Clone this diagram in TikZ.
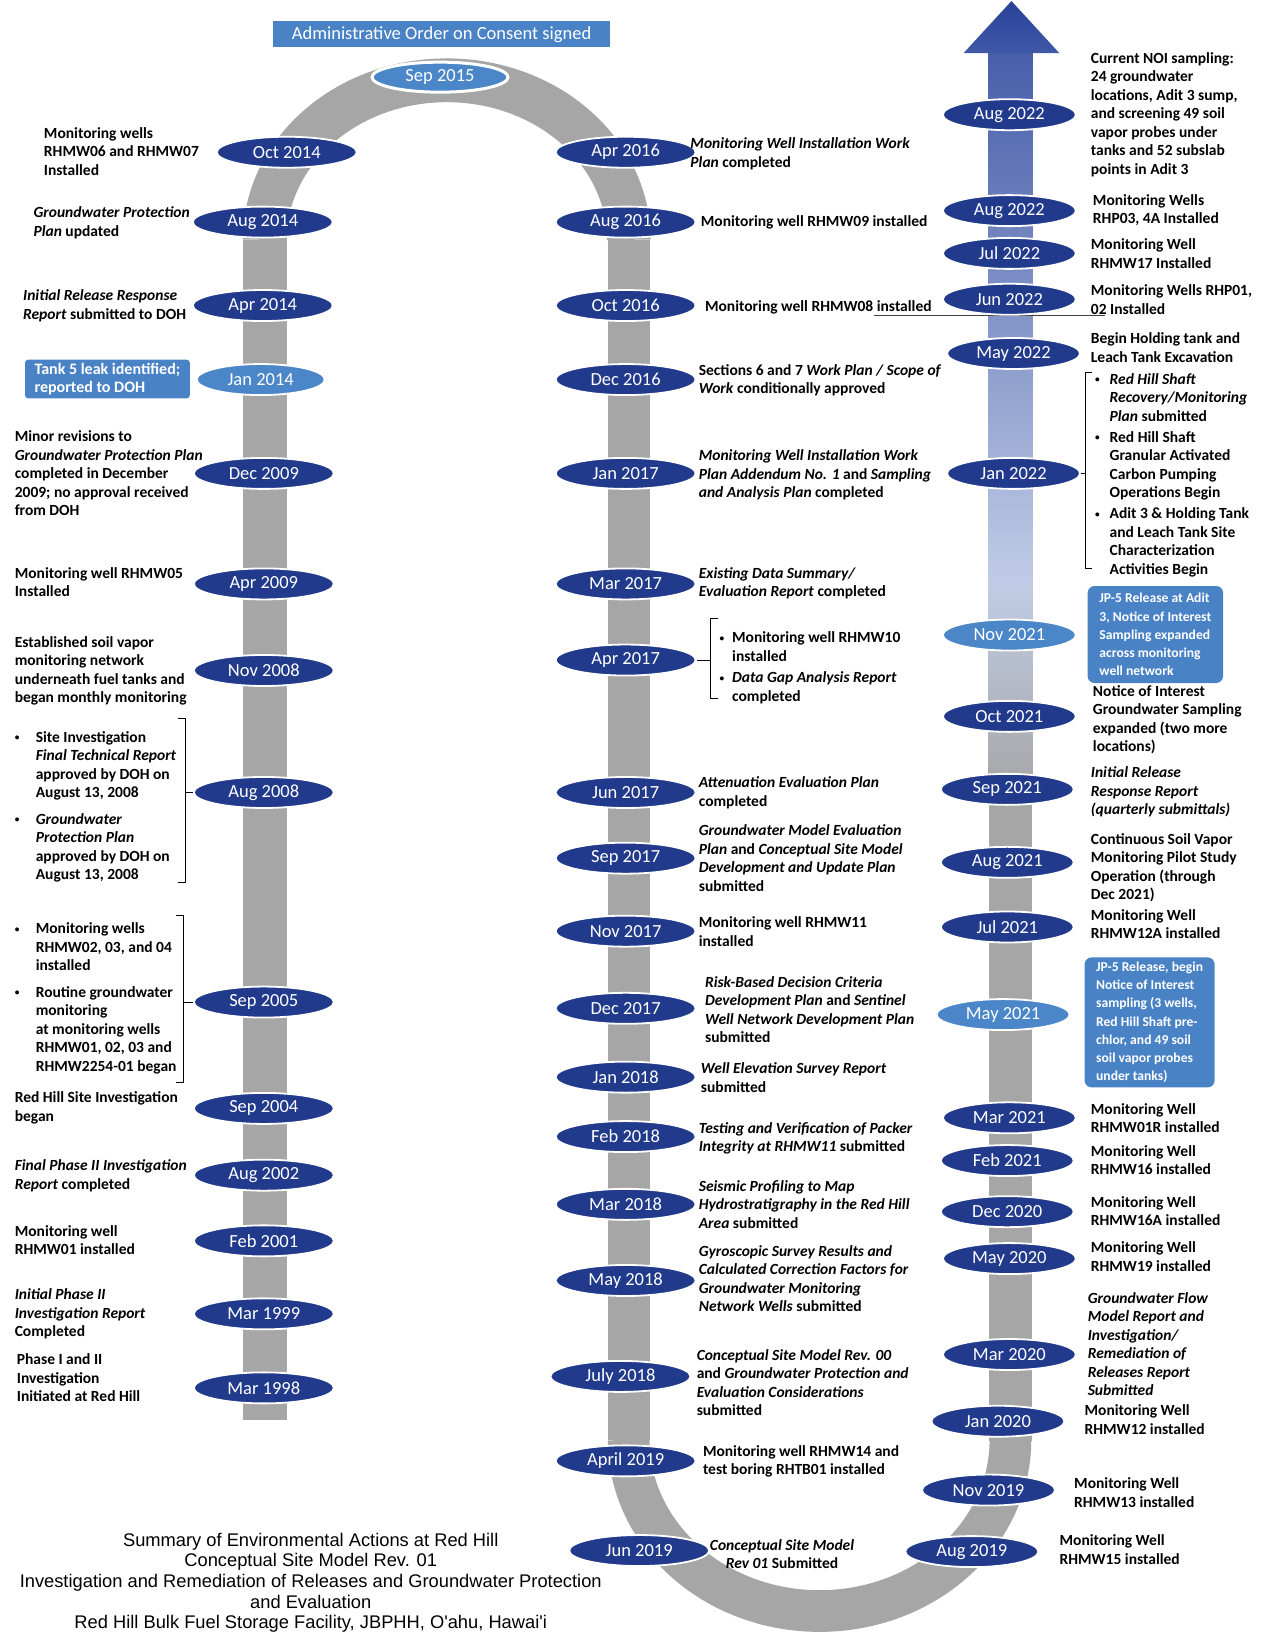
\documentclass[tikz,border=0pt]{standalone}
\usepackage{fontspec}
\setmainfont{Carlito}
\newfontfamily\titlefont{Liberation Sans}
\usetikzlibrary{shapes.geometric}
\definecolor{navy}{RGB}{33,58,140}
\definecolor{lblue}{RGB}{74,134,200}
\definecolor{boxblue}{RGB}{74,130,198}
\definecolor{band}{RGB}{166,166,166}
\definecolor{rbA}{RGB}{72,94,170}
\definecolor{rbB}{RGB}{192,204,230}
\definecolor{headA}{RGB}{40,66,152}
\definecolor{headB}{RGB}{64,88,168}
\newcommand\bulx[1]{\makebox[#1][l]{\raisebox{0.12em}{\scalebox{0.6}{•}}}}
\newcommand\indx[1]{\hspace*{#1}}
\begin{document}
\begin{tikzpicture}[x=1.0426pt,y=-1.0426pt,
 ev/.style={ellipse,fill=navy,draw=white,line width=1.8pt,minimum width=140pt,minimum height=31pt,inner sep=0pt,text=white,font=\fontsize{18.5}{20}\selectfont},
 evr/.style={ev,minimum width=133pt},
 lt/.style={fill=lblue},
 txt/.style={anchor=north west,inner sep=0pt,align=left,font=\fontsize{15.5}{18.5}\selectfont\bfseries},
 bxt/.style={rounded corners=7pt,fill=boxblue,text=white,align=left,inner sep=3pt,font=\fontsize{13.6}{18.2}\selectfont\bfseries},
 brk/.style={draw=black,line width=0.8pt}]

\useasboundingbox (0,0) rectangle (1220,1568);

% ---- bands
\fill[band] (233,230) rectangle (275,1362);
\fill[band] (583,230) rectangle (623,1381);
\draw[band,line width=43.8pt] (254,230) arc[start angle=180,end angle=360,x radius=174.5,y radius=153];
\draw[band,line width=41.7pt] (603,1381) arc[start angle=180,end angle=0,x radius=183,y radius=164];
\shade[top color=rbA,bottom color=rbB] (948,50) rectangle (990,560);
\shade[top color=rbB,bottom color=band] (948,559) rectangle (990,760);
\fill[band] (948,759) rectangle (990,1382);
\shade[top color=headA,bottom color=headB] (924,51) -- (1016,51) -- (970,1) -- cycle;

% ---- line under Oct 2016 text
\coordinate (ulA) at (838,302);
\coordinate (ulB) at (1060,302);
\draw[black!75,line width=0.8pt] (ulA) -- (ulB);

% ---- header box
\node[fill=boxblue,minimum width=337pt,minimum height=26pt,inner sep=0pt,text=white,font=\fontsize{18.5}{20}\selectfont] (aoc) at (423.5,33) {Administrative Order on Consent signed};
\node[ev,lt,line width=3pt,minimum width=136pt,minimum height=30pt] (tS) at (422,74) {Sep 2015};

% ---- left ellipses
\node[ev] (lA) at (275,146) {Oct 2014};
\node[ev] (lB) at (252,213) {Aug 2014};
\node[ev] (lC) at (252,293) {Apr 2014};
\node[ev,lt,minimum width=128pt] (lD) at (250,364) {Jan 2014};
\node[ev] (lE) at (253,454) {Dec 2009};
\node[ev] (lF) at (253,560) {Apr 2009};
\node[ev] (lG) at (253,643) {Nov 2008};
\node[ev] (lH) at (253,760) {Aug 2008};
\node[ev] (lI) at (253,961) {Sep 2005};
\node[ev] (lJ) at (253,1063) {Sep 2004};
\node[ev] (lK) at (253,1127) {Aug 2002};
\node[ev] (lL) at (253,1190) {Feb 2001};
\node[ev] (lM) at (253,1260) {Mar 1999};
\node[ev] (lN) at (253,1331) {Mar 1998};

% ---- middle ellipses
\node[ev] (mA) at (600,146) {Apr 2016};
\node[ev] (mB) at (600,213) {Aug 2016};
\node[ev] (mC) at (600,293) {Oct 2016};
\node[ev] (mD) at (600,364) {Dec 2016};
\node[ev] (mE) at (600,454) {Jan 2017};
\node[ev] (mF) at (600,560) {Mar 2017};
\node[ev] (mG) at (600,633) {Apr 2017};
\node[ev] (mH) at (600,760) {Jun 2017};
\node[ev] (mI) at (600,823) {Sep 2017};
\node[ev] (mJ) at (600,893) {Nov 2017};
\node[ev] (mK) at (600,967) {Dec 2017};
\node[ev] (mL) at (600,1033) {Jan 2018};
\node[ev] (mM) at (600,1090) {Feb 2018};
\node[ev] (mN) at (600,1155) {Mar 2018};
\node[ev] (mO) at (600,1228) {May 2018};
\node[ev] (mP) at (595,1320) {July 2018};
\node[ev] (mQ) at (600,1401) {April 2019};
\node[ev] (mR) at (613,1487) {Jun 2019};

% ---- right ellipses
\node[evr] (rA) at (968,110) {Aug 2022};
\node[evr] (rB) at (968,202) {Aug 2022};
\node[evr] (rC) at (968,243) {Jul 2022};
\node[evr] (rD) at (968,287) {Jun 2022};
\node[evr] (rE) at (972,339) {May 2022};
\node[evr] (rF) at (972,454) {Jan 2022};
\node[evr,lt] (rG) at (968,609) {Nov 2021};
\node[evr] (rH) at (968,687) {Oct 2021};
\node[evr] (rI) at (966,757) {Sep 2021};
\node[evr] (rJ) at (966,827) {Aug 2021};
\node[evr] (rK) at (966,889) {Jul 2021};
\node[evr,lt] (rL) at (962,973) {May 2021};
\node[evr] (rM) at (968,1072) {Mar 2021};
\node[evr] (rN) at (966,1113) {Feb 2021};
\node[evr] (rO) at (966,1162) {Dec 2020};
\node[evr] (rP) at (968,1207) {May 2020};
\node[evr] (rQ) at (968,1299) {Mar 2020};
\node[evr] (rR) at (957,1363) {Jan 2020};
\node[evr] (rS) at (948,1429) {Nov 2019};
\node[evr] (rT) at (932,1488) {Aug 2019};

% ---- brackets
\coordinate (b1t) at (171,689); \coordinate (b1b) at (171,846); \coordinate (b1m) at (178,760);
\draw[brk] (b1t) -- ++(7,0) -- (178,846) -- (b1b);
\draw[brk] (b1m) -- (lH.west);
\coordinate (b2t) at (169,878); \coordinate (b2b) at (169,1038); \coordinate (b2m) at (176,961);
\draw[brk] (b2t) -- ++(7,0) -- (176,1038) -- (b2b);
\draw[brk] (b2m) -- (lI.west);
\coordinate (b3t) at (689,593); \coordinate (b3b) at (689,670); \coordinate (b3m) at (681,633);
\draw[brk] (b3t) -- ++(-8,0) -- (681,670) -- (b3b);
\draw[brk] (b3m) -- (mG.east);
\coordinate (b4t) at (1047,357); \coordinate (b4b) at (1047,545); \coordinate (b4m) at (1041,454);
\draw[brk] (b4t) -- ++(-6,0) -- (1041,545) -- (b4b);
\draw[brk] (b4m) -- (rF.east);

% ---- left texts
\node[txt] (tL1) at (42,122) {Monitoring wells\\RHMW06 and RHMW07\\Installed};
\node[txt] (tL2) at (32,198) {\textit{Groundwater Protection}\\\textit{Plan} updated};
\node[txt] (tL3) at (22,278) {\textit{Initial Release Response}\\\textit{Report} submitted to DOH};
\node[bxt,rounded corners=3pt,font=\fontsize{16}{18}\selectfont\bfseries,minimum width=164.7pt,minimum height=38.6pt] (tank) at (103,363.5) {Tank 5 leak identified;\\reported to DOH};
\node[txt] (tL5) at (14,413) {Minor revisions to\\\textit{Groundwater Protection Plan}\\completed in December\\2009; no approval received\\from DOH};
\node[txt] (tL6) at (14,544) {Monitoring well RHMW05\\Installed};
\node[txt] (tL7) at (14,610) {Established soil vapor\\monitoring network\\underneath fuel tanks and\\began monthly monitoring};
\node[txt] (tL8) at (14,701) {\bulx{21pt}Site Investigation\\\indx{21pt}\textit{Final Technical Report}\\\indx{21pt}approved by DOH on\\\indx{21pt}August 13, 2008\\[8pt]\bulx{21pt}\textit{Groundwater}\\\indx{21pt}\textit{Protection Plan}\\\indx{21pt}approved by DOH on\\\indx{21pt}August 13, 2008};
\node[txt] (tL9) at (14,885) {\bulx{21pt}Monitoring wells\\\indx{21pt}RHMW02, 03, and 04\\\indx{21pt}installed\\[8pt]\bulx{21pt}Routine groundwater\\\indx{21pt}monitoring\\\indx{21pt}at monitoring wells\\\indx{21pt}RHMW01, 02, 03 and\\\indx{21pt}RHMW2254-01 began};
\node[txt] (tL10) at (14,1047) {Red Hill Site Investigation\\began};
\node[txt] (tL11) at (14,1112) {\textit{Final Phase II Investigation}\\\textit{Report} completed};
\node[txt] (tL12) at (14,1175) {Monitoring well\\RHMW01 installed};
\node[txt] (tL13) at (14,1236) {\textit{Initial Phase II}\\\textit{Investigation Report}\\Completed};
\node[txt] (tL14) at (16,1298) {Phase I and II\\Investigation\\Initiated at Red Hill};

% ---- middle texts
\node[txt] (tM1) at (662,132) {\textit{Monitoring Well Installation Work}\\\textit{Plan} completed};
\node[txt] (tM2) at (672,207) {Monitoring well RHMW09 installed};
\node[txt] (tM3) at (676,288) {Monitoring well RHMW08 installed};
\node[txt] (tM4) at (670,349) {Sections 6 and 7 \textit{Work Plan / Scope of}\\\textit{Work} conditionally approved};
\node[txt] (tM5) at (670,431) {\textit{Monitoring Well Installation Work}\\\textit{Plan Addendum No. 1} and \textit{Sampling}\\\textit{and Analysis Plan} completed};
\node[txt] (tM6) at (670,544) {\textit{Existing Data Summary/}\\\textit{Evaluation Report} completed};
\node[txt] (tM7) at (690,606) {\bulx{12.5pt}Monitoring well RHMW10\\\indx{12.5pt}installed\\[3pt]\bulx{12.5pt}\textit{Data Gap Analysis Report}\\\indx{12.5pt}completed};
\node[txt] (tM8) at (670,745) {\textit{Attenuation Evaluation Plan}\\completed};
\node[txt] (tM9) at (670,791) {\textit{Groundwater Model Evaluation}\\\textit{Plan} and \textit{Conceptual Site Model}\\\textit{Development and Update Plan}\\submitted};
\node[txt] (tM10) at (670,879) {Monitoring well RHMW11\\installed};
\node[txt] (tM11) at (676,936) {\textit{Risk-Based Decision Criteria}\\\textit{Development Plan} and \textit{Sentinel}\\\textit{Well Network Development Plan}\\submitted};
\node[txt] (tM12) at (672,1019) {\textit{Well Elevation Survey Report}\\submitted};
\node[txt] (tM13) at (670,1076) {\textit{Testing and Verification of Packer}\\\textit{Integrity at RHMW11} submitted};
\node[txt] (tM14) at (670,1132) {\textit{Seismic Profiling to Map}\\\textit{Hydrostratigraphy in the Red Hill}\\\textit{Area} submitted};
\node[txt] (tM15) at (670,1194) {\textit{Gyroscopic Survey Results and}\\\textit{Calculated Correction Factors for}\\\textit{Groundwater Monitoring}\\\textit{Network Wells} submitted};
\node[txt] (tM16) at (668,1294) {\textit{Conceptual Site Model Rev. 00}\\and \textit{Groundwater Protection and}\\\textit{Evaluation Considerations}\\submitted};
\node[txt] (tM17) at (674,1386) {Monitoring well RHMW14 and\\test boring RHTB01 installed};
\node[txt,anchor=north,align=center] (tM18) at (750,1476) {\textit{Conceptual Site Model}\\\textit{Rev 01} Submitted};

% ---- right texts
\node[txt] (tR1) at (1046,50) {Current NOI sampling:\\24 groundwater\\locations, Adit 3 sump,\\and screening 49 soil\\vapor probes under\\tanks and 52 subslab\\points in Adit 3};
\node[txt] (tR2) at (1048,186) {Monitoring Wells\\RHP03, 4A Installed};
\node[txt] (tR3) at (1046,229) {Monitoring Well\\RHMW17 Installed};
\node[txt] (tR4) at (1046,273) {Monitoring Wells RHP01,\\02 Installed};
\node[txt] (tR5) at (1046,319) {Begin Holding tank and\\Leach Tank Excavation};
\node[txt] (tR6) at (1050,358) {\bulx{14.6pt}\textit{Red Hill Shaft}\\\indx{14.6pt}\textit{Recovery/Monitoring}\\\indx{14.6pt}\textit{Plan} submitted\\[2.5pt]\bulx{14.6pt}Red Hill Shaft\\\indx{14.6pt}Granular Activated\\\indx{14.6pt}Carbon Pumping\\\indx{14.6pt}Operations Begin\\[2.5pt]\bulx{14.6pt}Adit 3 \& Holding Tank\\\indx{14.6pt}and Leach Tank Site\\\indx{14.6pt}Characterization\\\indx{14.6pt}Activities Begin};
\node[bxt,minimum width=135.5pt,minimum height=97pt] (jp1) at (1108,608.5) {JP-5 Release at Adit\\3, Notice of Interest\\Sampling expanded\\across monitoring\\well network};
\node[txt] (tR8) at (1048,657) {Notice of Interest\\Groundwater Sampling\\expanded (two more\\locations)};
\node[txt] (tR9) at (1046,735) {\textit{Initial Release}\\\textit{Response Report}\\\textit{(quarterly submittals)}};
\node[txt] (tR10) at (1046,799) {Continuous Soil Vapor\\Monitoring Pilot Study\\Operation (through\\Dec 2021)};
\node[txt] (tR11) at (1046,872) {Monitoring Well\\RHMW12A installed};
\node[bxt,minimum width=130pt,minimum height=130pt,inner sep=1pt] (jp2) at (1102.5,980.5) {JP-5 Release, begin\\Notice of Interest\\sampling (3 wells,\\Red Hill Shaft pre-\\chlor, and 49 soil\\soil vapor probes\\under tanks)};
\node[txt] (tR13) at (1046,1058) {Monitoring Well\\RHMW01R installed};
\node[txt] (tR14) at (1046,1098) {Monitoring Well\\RHMW16 installed};
\node[txt] (tR15) at (1046,1147) {Monitoring Well\\RHMW16A installed};
\node[txt] (tR16) at (1046,1191) {Monitoring Well\\RHMW19 installed};
\node[txt] (tR17) at (1043,1239) {\textit{Groundwater Flow}\\\textit{Model Report and}\\\textit{Investigation/}\\\textit{Remediation of}\\\textit{Releases Report}\\\textit{Submitted}};
\node[txt] (tR18) at (1040,1347) {Monitoring Well\\RHMW12 installed};
\node[txt] (tR19) at (1030,1417) {Monitoring Well\\RHMW13 installed};
\node[txt] (tR20) at (1016,1472) {Monitoring Well\\RHMW15 installed};

% ---- title
\node[anchor=north,align=center,inner sep=0pt,font=\titlefont\fontsize{18.3}{20.6}\selectfont] (title) at (298,1470) {Summary of Environmental Actions at Red Hill\\Conceptual Site Model Rev. 01\\Investigation and Remediation of Releases and Groundwater Protection\\and Evaluation\\Red Hill Bulk Fuel Storage Facility, JBPHH, O'ahu, Hawai'i};
\end{tikzpicture}
\end{document}
